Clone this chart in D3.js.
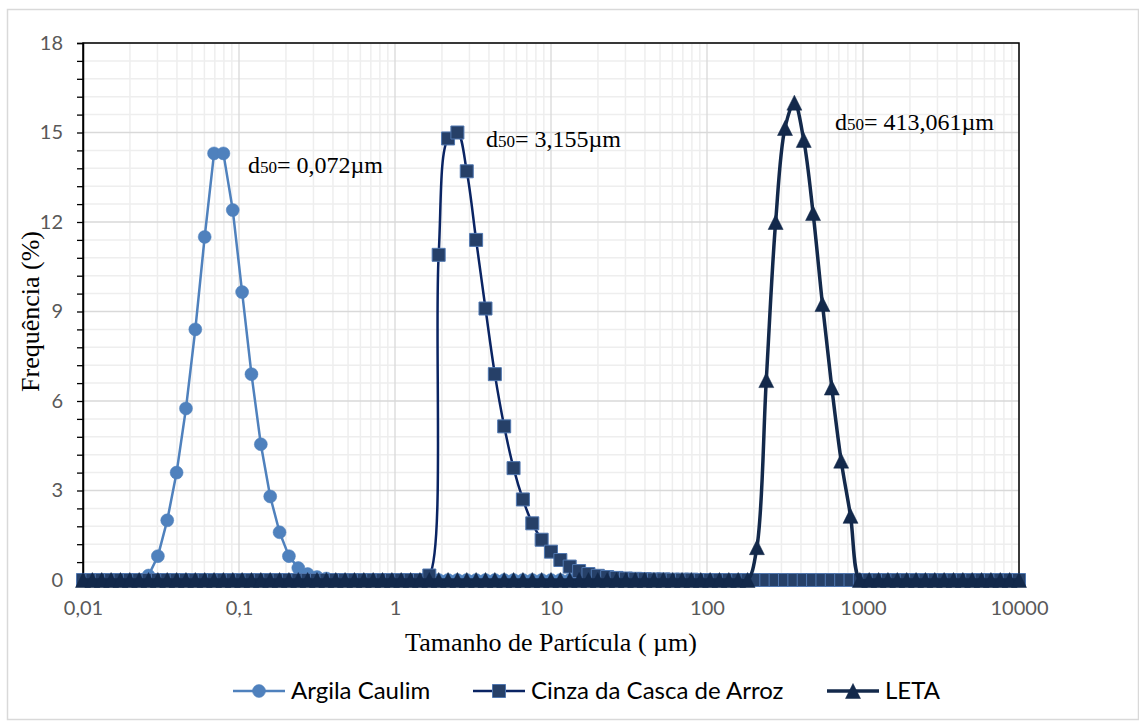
<!DOCTYPE html>
<html>
<head>
<meta charset="utf-8">
<script src="https://cdn.jsdelivr.net/npm/d3@7"></script>
<style>
  html, body { margin: 0; padding: 0; background: #fff; }
  svg { display: block; }
</style>
</head>
<body>
<svg id="chart" width="1139" height="726"></svg>
<script>
// ---- DATA ----
const sizes = [
  0.01, 0.01148, 0.01318, 0.01514, 0.01738, 0.01995, 0.02291, 0.0263, 0.0302, 0.03467,
  0.03981, 0.04571, 0.05248, 0.06026, 0.06918, 0.07943, 0.0912, 0.1047, 0.1202, 0.138,
  0.1585, 0.182, 0.2089, 0.2399, 0.2754, 0.3162, 0.3631, 0.4169, 0.4786, 0.5495,
  0.631, 0.7244, 0.8318, 0.955, 1.096, 1.259, 1.445, 1.66, 1.905, 2.188,
  2.512, 2.884, 3.311, 3.802, 4.365, 5.012, 5.754, 6.607, 7.586, 8.71,
  10.0, 11.48, 13.18, 15.14, 17.38, 19.95, 22.91, 26.3, 30.2, 34.67,
  39.81, 45.71, 52.48, 60.26, 69.18, 79.43, 91.2, 104.7, 120.2, 138.0,
  158.5, 182.0, 208.9, 239.9, 275.4, 316.2, 363.1, 416.9, 478.6, 549.5,
  631.0, 724.4, 831.8, 955.0, 1096, 1259, 1445, 1660, 1905, 2188,
  2512, 2884, 3311, 3802, 4365, 5012, 5754, 6607, 7586, 8710,
  10000
];

const argila = [
  0, 0, 0, 0, 0, 0, 0, 0.15, 0.8, 2.0,
  3.6, 5.75, 8.4, 11.5, 14.3, 14.3, 12.4, 9.65, 6.9, 4.55,
  2.8, 1.6, 0.8, 0.4, 0.2, 0.1, 0.05, 0, 0, 0,
  0, 0, 0, 0, 0, 0, 0, 0, 0, 0,
  0, 0, 0, 0, 0, 0, 0, 0, 0, 0,
  0, 0, 0, 0, 0, 0, 0, 0, 0, 0,
  0, 0, 0, 0, 0, 0, 0, 0, 0, 0,
  0, 0, 0, 0, 0, 0, 0, 0, 0, 0,
  0, 0, 0, 0, 0, 0, 0, 0, 0, 0,
  0, 0, 0, 0, 0, 0, 0, 0, 0, 0,
  0
];

const cinza = [
  0, 0, 0, 0, 0, 0, 0, 0, 0, 0,
  0, 0, 0, 0, 0, 0, 0, 0, 0, 0,
  0, 0, 0, 0, 0, 0, 0, 0, 0, 0,
  0, 0, 0, 0, 0, 0, 0, 0.15, 10.9, 14.8,
  15.0, 13.7, 11.4, 9.1, 6.9, 5.15, 3.75, 2.7, 1.9, 1.35,
  0.95, 0.67, 0.45, 0.3, 0.2, 0.14, 0.1, 0.07, 0.05, 0.04,
  0.03, 0.02, 0.02, 0.01, 0.01, 0.01, 0, 0, 0, 0,
  0, 0, 0, 0, 0, 0, 0, 0, 0, 0,
  0, 0, 0, 0, 0, 0, 0, 0, 0, 0,
  0, 0, 0, 0, 0, 0, 0, 0, 0, 0,
  0
];

const leta = [
  0, 0, 0, 0, 0, 0, 0, 0, 0, 0,
  0, 0, 0, 0, 0, 0, 0, 0, 0, 0,
  0, 0, 0, 0, 0, 0, 0, 0, 0, 0,
  0, 0, 0, 0, 0, 0, 0, 0, 0, 0,
  0, 0, 0, 0, 0, 0, 0, 0, 0, 0,
  0, 0, 0, 0, 0, 0, 0, 0, 0, 0,
  0, 0, 0, 0, 0, 0, 0, 0, 0, 0,
  0, 0, 1.1, 6.7, 12.0, 15.15, 16.0, 14.75, 12.3, 9.25,
  6.45, 4.0, 2.15, 0, 0, 0, 0, 0, 0, 0,
  0, 0, 0, 0, 0, 0, 0, 0, 0, 0,
  0
];

const seriesNames = ["Argila Caulim", "Cinza da Casca de Arroz", "LETA"];
const xTickValues = [0.01, 0.1, 1, 10, 100, 1000, 10000];
const xTickLabels = ["0,01", "0,1", "1", "10", "100", "1000", "10000"];
const yTickValues = [0, 3, 6, 9, 12, 15, 18];
const annotations = [
  { main: "d", sub: "50", rest: "= 0,072µm" },
  { main: "d", sub: "50", rest: "= 3,155µm" },
  { main: "d", sub: "50", rest: "= 413,061µm" }
];

// ---- LAYOUT ----
const svg = d3.select("#chart");
const L = 83, R = 1019, T = 43, B = 580;

const x = d3.scaleLog().domain([0.01, 10000]).range([L, R]);
const y = d3.scaleLinear().domain([0, 18]).range([B, T]);

const sansFont = "Lato, 'Open Sans', 'Liberation Sans', sans-serif";
const serifFont = "'Liberation Serif', 'DejaVu Serif', serif";

// outer chart border
svg.append("rect")
  .attr("x", 7.5).attr("y", 9.5)
  .attr("width", 1131).attr("height", 710)
  .attr("fill", "#fff").attr("stroke", "#d9d9d9").attr("stroke-width", 1.5);

// ---- GRID ----
const grid = svg.append("g");
const yMinor = d3.range(0, 18.001, 0.6).filter(v => Math.abs(v / 3 - Math.round(v / 3)) > 1e-6);
grid.selectAll(".hmin").data(yMinor).join("line")
  .attr("x1", L).attr("x2", R)
  .attr("y1", d => y(d)).attr("y2", d => y(d))
  .attr("stroke", "#eeeeee").attr("stroke-width", 1.5);
const xMinor = [];
for (let e = -2; e < 4; e++) for (let m = 2; m <= 9; m++) xMinor.push(m * Math.pow(10, e));
grid.selectAll(".vmin").data(xMinor).join("line")
  .attr("x1", d => x(d)).attr("x2", d => x(d))
  .attr("y1", T).attr("y2", B)
  .attr("stroke", "#eeeeee").attr("stroke-width", 1.5);
grid.selectAll(".hmaj").data(yTickValues).join("line")
  .attr("x1", L).attr("x2", R)
  .attr("y1", d => y(d)).attr("y2", d => y(d))
  .attr("stroke", "#d9d9d9").attr("stroke-width", 1.3);
grid.selectAll(".vmaj").data(xTickValues).join("line")
  .attr("x1", d => x(d)).attr("x2", d => x(d))
  .attr("y1", T).attr("y2", B)
  .attr("stroke", "#d9d9d9").attr("stroke-width", 1.3);

// plot border
svg.append("rect")
  .attr("x", L).attr("y", T).attr("width", R - L).attr("height", B - T)
  .attr("fill", "none").attr("stroke", "#000").attr("stroke-width", 1.5);

// ---- Y AXIS ----
const yAxis = d3.axisLeft(y).tickValues(yTickValues).tickSize(6).tickFormat(d3.format("d"));
const yg = svg.append("g").attr("transform", `translate(${L},0)`).call(yAxis);
yg.select(".domain").attr("stroke", "#000").attr("stroke-width", 1.5);
yg.selectAll(".tick line").attr("stroke", "#000").attr("stroke-width", 1.3);
yg.selectAll(".tick text")
  .attr("x", -20)
  .attr("font-family", sansFont).attr("font-size", 20).attr("fill", "#595959");
const yMinorAxis = d3.axisLeft(y).tickValues(yMinor).tickSize(6).tickFormat("");
const ymg = svg.append("g").attr("transform", `translate(${L},0)`).call(yMinorAxis);
ymg.select(".domain").remove();
ymg.selectAll(".tick line").attr("stroke", "#000").attr("stroke-width", 1.3);

// ---- X AXIS labels ----
const xAxis = d3.axisBottom(x).tickValues(xTickValues).tickSize(0)
  .tickFormat((d, i) => xTickLabels[i]);
const xg = svg.append("g").attr("transform", `translate(0,${B})`).call(xAxis);
xg.select(".domain").remove();
xg.selectAll(".tick text")
  .attr("y", 21)
  .attr("font-family", sansFont).attr("font-size", 20).attr("fill", "#595959");

// axis titles
svg.append("text")
  .attr("x", (L + R) / 2).attr("y", 651)
  .attr("text-anchor", "middle")
  .attr("font-family", serifFont).attr("font-size", 26).attr("fill", "#000")
  .text("Tamanho de Partícula ( µm)");

svg.append("text")
  .attr("transform", `translate(39,${(T + B) / 2}) rotate(-90)`)
  .attr("text-anchor", "middle")
  .attr("font-family", serifFont).attr("font-size", 26).attr("fill", "#000")
  .text("Frequência (%)");

// ---- SERIES ----
const styles = [
  { values: argila, color: "#4f81bd", width: 2.5, curve: d3.curveLinear, marker: "circle",
    fill: "#4f81bd", stroke: "#4f81bd" },
  { values: cinza, color: "#0a2463", width: 2.5, curve: d3.curveCatmullRom.alpha(0.5), marker: "square",
    fill: "#264068", stroke: "#5077b0" },
  { values: leta, color: "#13294b", width: 3.5, curve: d3.curveCatmullRom.alpha(0.5), marker: "triangle",
    fill: "#13294b", stroke: "#13294b" }
];

function markerPath(type) {
  if (type === "circle") return d3.symbol().type(d3.symbolCircle).size(Math.PI * 6.5 * 6.5)();
  if (type === "square") return "M-6.5,-6.5H6.5V6.5H-6.5Z";
  return "M0,-7.5L7.5,7.5L-7.5,7.5Z";
}

styles.forEach(s => {
  const pts = sizes.map((d, i) => [d, s.values[i]]);
  const line = d3.line().x(d => x(d[0])).y(d => y(d[1])).curve(s.curve);
  const g = svg.append("g");
  g.append("path")
    .attr("d", line(pts))
    .attr("fill", "none").attr("stroke", s.color).attr("stroke-width", s.width)
    .attr("stroke-linejoin", "round");
  g.selectAll("path.m").data(pts).join("path")
    .attr("class", "m")
    .attr("transform", d => `translate(${x(d[0])},${y(d[1])})`)
    .attr("d", markerPath(s.marker))
    .attr("fill", s.fill)
    .attr("stroke", s.stroke).attr("stroke-width", s.marker === "square" ? 1 : 0.5);
});

// ---- ANNOTATIONS ----
const annOffsets = [[248, 173], [486, 147], [835, 130]];
annotations.forEach((a, i) => {
  const t = svg.append("text")
    .attr("x", annOffsets[i][0]).attr("y", annOffsets[i][1])
    .attr("font-family", serifFont).attr("font-size", 24).attr("fill", "#000");
  t.append("tspan").text(a.main);
  t.append("tspan").attr("font-size", 17).text(a.sub);
  t.append("tspan").text(a.rest);
});

// ---- LEGEND ----
const legendItems = [
  { x0: 233, tx: 291 },
  { x0: 473, tx: 531 },
  { x0: 827, tx: 885 }
];
const ly = 691;
styles.forEach((s, i) => {
  const g = svg.append("g");
  const li = legendItems[i];
  g.append("line")
    .attr("x1", li.x0).attr("x2", li.x0 + 52)
    .attr("y1", ly).attr("y2", ly)
    .attr("stroke", s.color).attr("stroke-width", s.width);
  g.append("path")
    .attr("transform", `translate(${li.x0 + 26},${ly})`)
    .attr("d", markerPath(s.marker))
    .attr("fill", s.fill).attr("stroke", s.stroke).attr("stroke-width", s.marker === "square" ? 1 : 0.5);
  g.append("text")
    .attr("x", li.tx).attr("y", ly).attr("dy", "0.35em")
    .attr("font-family", sansFont).attr("font-size", 24).attr("fill", "#000")
    .text(seriesNames[i]);
});
</script>
</body>
</html>
